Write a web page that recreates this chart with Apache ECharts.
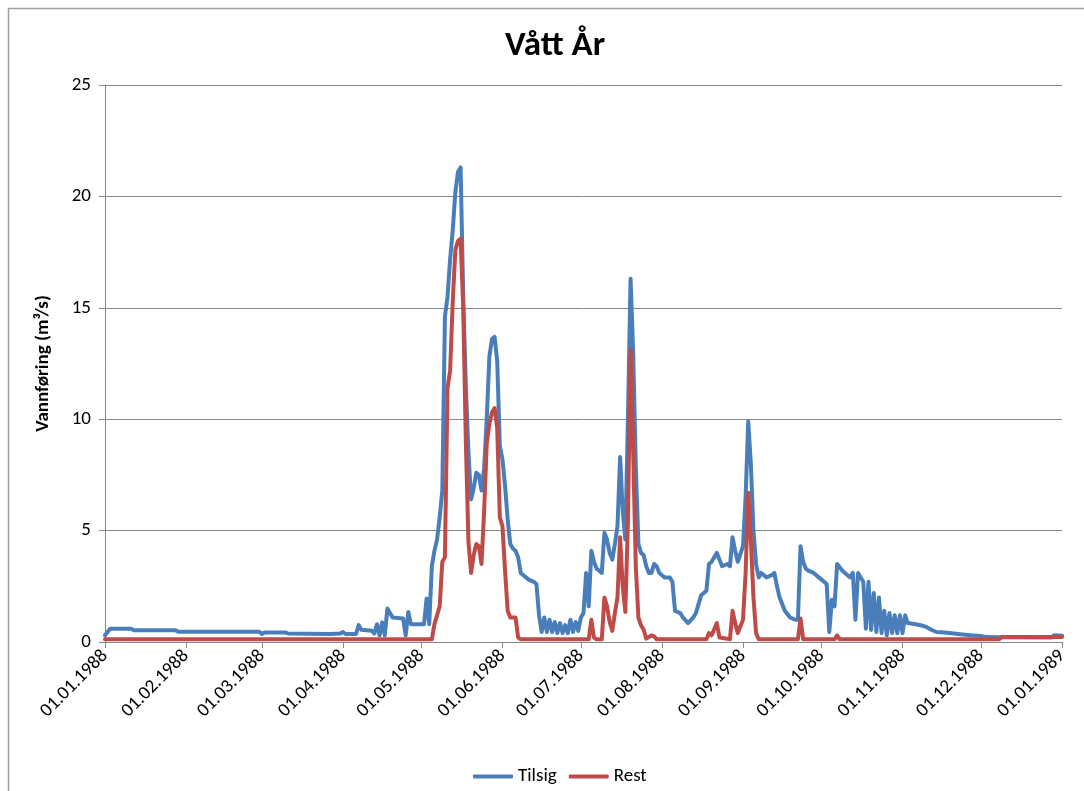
<!DOCTYPE html>
<html><head><meta charset="utf-8">
<script src="https://cdn.jsdelivr.net/npm/echarts@6/dist/echarts.min.js"></script>
<style>html,body{margin:0;padding:0;background:#fff}#c{width:1084px;height:791px}</style>
</head><body><div id="c"></div>
<script>
const chartTitle = 'Vått År';
const yAxisName = 'Vannføring (m³/s)';
const seriesNames = ['Tilsig', 'Rest'];
const yMin = 0, yMax = 25, yStep = 5;
const firstDay = [1988, 0, 1];   // 01.01.1988
const lastDay = [1989, 0, 1];    // 01.01.1989

// [day number counted from 01.01.1988, value m³/s]
const tilsig = [[0,0.3],[2,0.6],[10,0.6],[11,0.53],[27,0.53],[28,0.46],[59,0.46],[60,0.36],[61,0.43],[69,0.43],[70,0.38],[86,0.36],[90,0.38],[91,0.45],[92,0.36],[96,0.36],[97,0.76],[98,0.55],[102,0.5],[103,0.38],[104,0.8],[105,0.3],[106,0.88],[107,0.3],[108,1.5],[109,1.3],[110,1.1],[114,1.05],[115,0.3],[116,1.35],[117,0.8],[122,0.8],[123,1.95],[124,0.8],[125,3.4],[126,4.1],[127,4.6],[128,5.6],[129,6.8],[130,14.6],[131,15.5],[132,17.2],[133,18.5],[134,20.2],[135,21.1],[136,21.3],[137,15.5],[138,11.5],[139,8.5],[140,6.4],[141,6.9],[142,7.6],[143,7.5],[144,6.8],[145,7.8],[146,10.0],[147,12.8],[148,13.6],[149,13.7],[150,12.6],[151,8.8],[152,8.2],[153,7.0],[154,5.5],[155,4.4],[156,4.2],[157,4.1],[158,3.8],[159,3.1],[160,3.0],[161,2.9],[162,2.8],[164,2.7],[165,2.6],[166,1.2],[167,0.45],[168,1.1],[169,0.45],[170,1.0],[171,0.45],[172,0.9],[173,0.4],[174,0.85],[175,0.4],[176,0.76],[177,0.4],[178,1.0],[179,0.45],[180,0.9],[181,0.5],[182,1.1],[183,1.3],[184,3.1],[185,1.6],[186,4.1],[187,3.6],[188,3.3],[189,3.2],[190,3.1],[191,4.9],[192,4.6],[193,4.0],[194,3.7],[195,4.4],[196,5.2],[197,8.3],[198,5.9],[199,4.6],[200,10.1],[201,16.3],[202,13.0],[203,7.9],[204,4.4],[205,4.0],[206,3.9],[207,3.4],[208,3.1],[209,3.1],[210,3.5],[211,3.4],[212,3.1],[213,3.0],[214,2.9],[216,2.9],[217,2.7],[218,1.4],[220,1.3],[221,1.1],[223,0.85],[225,1.1],[226,1.3],[227,1.7],[228,2.1],[229,2.2],[230,2.3],[231,3.5],[232,3.6],[234,4.0],[236,3.4],[238,3.5],[239,3.4],[240,4.7],[241,4.1],[242,3.6],[244,4.3],[245,6.5],[246,9.9],[247,8.0],[248,5.0],[249,3.5],[250,2.9],[251,3.1],[253,2.9],[255,3.0],[256,3.1],[257,2.5],[258,2.0],[260,1.4],[262,1.1],[264,1.0],[265,1.0],[266,4.3],[267,3.6],[268,3.3],[269,3.2],[271,3.1],[273,2.9],[275,2.7],[276,2.6],[277,0.45],[278,1.9],[279,1.6],[280,3.5],[282,3.2],[284,3.0],[285,2.9],[286,3.1],[287,1.0],[288,3.1],[289,2.9],[290,2.7],[291,0.6],[292,2.7],[293,0.54],[294,2.2],[295,0.45],[296,2.0],[297,0.4],[298,1.4],[299,0.3],[300,1.3],[301,0.4],[302,1.2],[303,0.4],[304,1.2],[305,0.4],[306,1.2],[307,0.85],[310,0.8],[312,0.75],[314,0.68],[316,0.55],[318,0.45],[320,0.44],[323,0.4],[327,0.35],[331,0.3],[335,0.27],[337,0.22],[342,0.21],[362,0.2],[363,0.3],[366,0.28]];

const rest = [[0,0.12],[125,0.12],[126,0.8],[127,1.2],[128,1.6],[129,3.6],[130,3.8],[131,11.4],[132,12.2],[133,15.3],[134,17.6],[135,18.0],[136,18.1],[137,15.0],[138,9.0],[139,4.5],[140,3.1],[141,3.9],[142,4.4],[143,4.3],[144,3.5],[145,5.9],[146,8.9],[147,9.8],[148,10.3],[149,10.5],[150,9.6],[151,5.6],[152,5.2],[153,3.2],[154,1.4],[155,1.1],[157,1.1],[158,0.2],[159,0.12],[185,0.12],[186,1.0],[187,0.2],[188,0.12],[190,0.12],[191,2.0],[192,1.6],[193,0.9],[194,0.5],[195,1.3],[196,2.0],[197,4.7],[198,2.5],[199,1.35],[200,5.5],[201,13.1],[202,8.5],[203,3.4],[204,1.1],[205,0.75],[206,0.55],[207,0.15],[209,0.3],[210,0.25],[211,0.12],[230,0.12],[231,0.4],[232,0.3],[234,0.85],[235,0.2],[238,0.15],[239,0.12],[240,1.4],[241,0.85],[242,0.4],[244,1.0],[245,3.1],[246,6.7],[247,4.6],[248,2.0],[249,0.4],[250,0.12],[265,0.12],[266,1.05],[267,0.12],[279,0.12],[280,0.3],[281,0.12],[342,0.12],[343,0.22],[366,0.22]];

const pad = n => (n < 10 ? '0' : '') + n;
const dates = [];
for (let t = Date.UTC(...firstDay); t <= Date.UTC(...lastDay); t += 86400000) {
  const d = new Date(t);
  dates.push(pad(d.getUTCDate()) + '.' + pad(d.getUTCMonth() + 1) + '.' + d.getUTCFullYear());
}
const monthStart = (i, v) => String(v).startsWith('01.');
const FONT = 'Carlito, Lato, sans-serif';
const GRID = '#878787';

const chart = echarts.init(document.getElementById('c'), null, {renderer: 'canvas'});
chart.setOption({
  backgroundColor: '#fff',
  animation: false,
  graphic: [{
    type: 'rect', silent: true,
    shape: {x: 8.5, y: 8.5, width: 1200, height: 900},
    style: {fill: 'none', stroke: '#a0a0a0', lineWidth: 1.5}
  }],
  title: {
    text: chartTitle, left: 500, top: 24,
    textStyle: {fontFamily: FONT, fontSize: 35, fontWeight: 'bold', color: '#000'}
  },
  legend: {
    data: seriesNames, left: 468, top: 762, itemWidth: 40, itemHeight: 4, itemGap: 12,
    icon: 'roundRect',
    textStyle: {fontFamily: FONT, fontSize: 19, color: '#000'}
  },
  grid: {left: 105, right: 22, top: 85, bottom: 149, containLabel: false},
  xAxis: {
    type: 'category', data: dates, boundaryGap: false,
    axisLine: {lineStyle: {color: GRID, width: 1}},
    axisTick: {show: true, interval: monthStart, length: 6, lineStyle: {color: GRID}},
    axisLabel: {interval: monthStart, rotate: 45, margin: 11, fontFamily: FONT, fontSize: 19, color: '#000'},
    splitLine: {show: false}
  },
  yAxis: {
    type: 'value', min: yMin, max: yMax, interval: yStep,
    name: yAxisName, nameLocation: 'middle', nameGap: 52,
    nameTextStyle: {fontFamily: FONT, fontSize: 19, fontWeight: 'bold', color: '#000'},
    axisLine: {show: true, lineStyle: {color: GRID, width: 1}},
    axisTick: {show: true, length: 6, lineStyle: {color: GRID}},
    axisLabel: {margin: 14, fontFamily: FONT, fontSize: 19, color: '#000'},
    splitLine: {show: true, lineStyle: {color: GRID, width: 1}}
  },
  series: [
    {name: seriesNames[0], type: 'line', data: tilsig, symbol: 'none', color: '#4a7ebb',
     lineStyle: {width: 4, color: '#4a7ebb', join: 'round', cap: 'round'}, z: 2},
    {name: seriesNames[1], type: 'line', data: rest, symbol: 'none', color: '#be4b48',
     lineStyle: {width: 4, color: '#be4b48', join: 'round', cap: 'round'}, z: 3}
  ]
});
</script></body></html>
